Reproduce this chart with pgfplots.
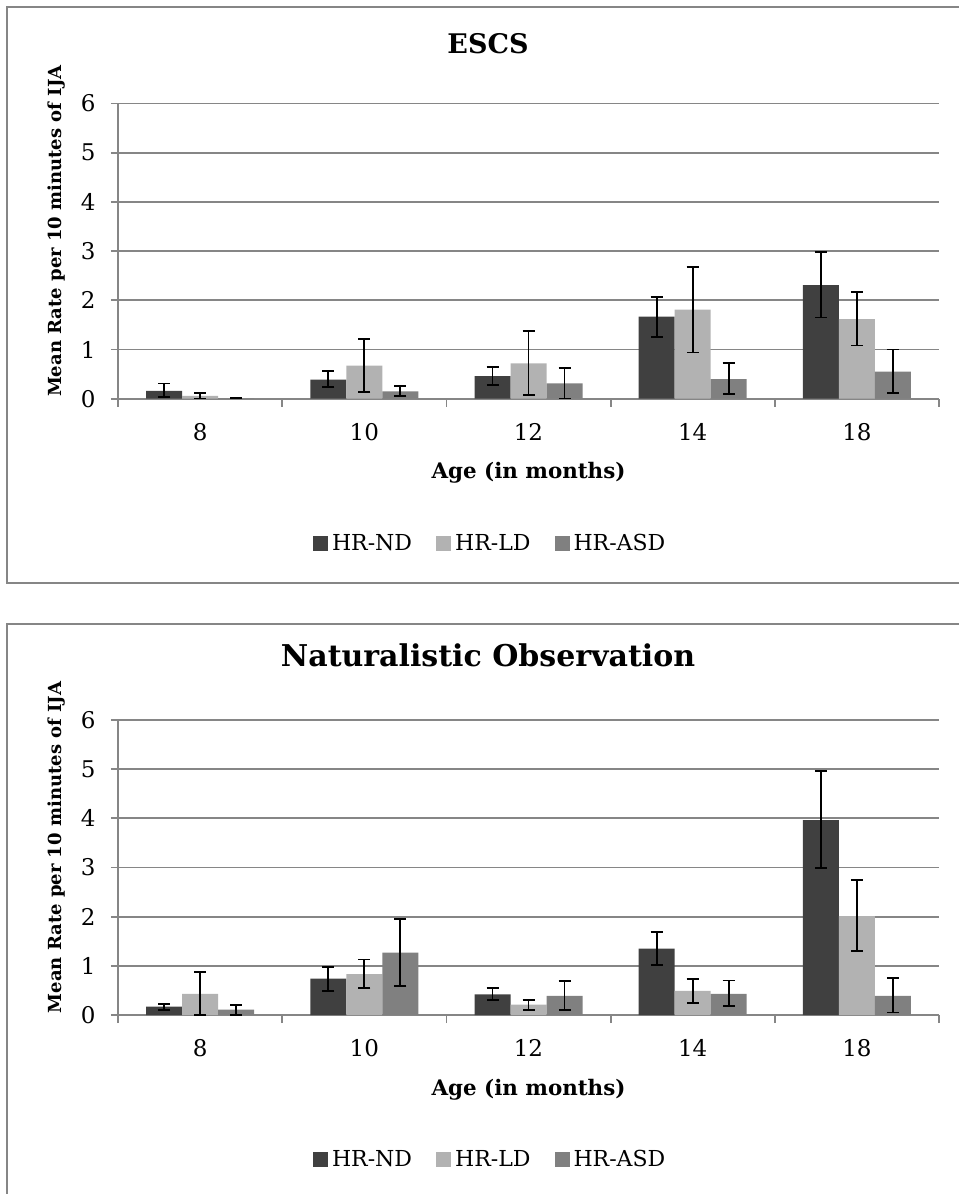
\documentclass[border=0pt]{standalone}
\usepackage{pgfplots}
\pgfplotsset{compat=1.18}
\usepackage{pgfplotstable}
\usepackage{fontspec}
\setmainfont{DejaVu Serif}

\definecolor{cND}{HTML}{404040}
\definecolor{cLD}{HTML}{B2B2B2}
\definecolor{cASD}{HTML}{808080}
\definecolor{gridgray}{HTML}{868686}

% x y ep em  (ep = upper error, em = lower error)
\pgfplotstableread{
x y ep em
0 0.16 0.15 0.13
1 0.39 0.17 0.15
2 0.46 0.18 0.18
3 1.67 0.40 0.41
4 2.31 0.68 0.66
}\escsND
\pgfplotstableread{
x y ep em
0 0.06 0.05 0.06
1 0.67 0.54 0.54
2 0.72 0.65 0.645
3 1.81 0.87 0.87
4 1.62 0.55 0.54
}\escsLD
\pgfplotstableread{
x y ep em
0 0.01 0.0 0.0
1 0.15 0.11 0.10
2 0.31 0.32 0.31
3 0.40 0.32 0.30
4 0.55 0.45 0.44
}\escsASD
\pgfplotstableread{
x y ep em
0 0.17 0.06 0.06
1 0.74 0.24 0.25
2 0.42 0.13 0.11
3 1.35 0.34 0.33
4 3.96 1.00 0.98
}\natND
\pgfplotstableread{
x y ep em
0 0.43 0.45 0.43
1 0.83 0.30 0.28
2 0.21 0.10 0.10
3 0.49 0.25 0.24
4 2.01 0.73 0.71
}\natLD
\pgfplotstableread{
x y ep em
0 0.11 0.10 0.11
1 1.27 0.68 0.68
2 0.39 0.30 0.29
3 0.43 0.27 0.25
4 0.39 0.36 0.34
}\natASD

\pgfplotsset{
  mychart/.style={
    scale only axis,
    width=821bp, height=295.2bp,
    ybar=0pt, bar width=36bp,
    xmin=-0.5, xmax=4.5,
    ymin=0, ymax=6,
    xtick={0,1,2,3,4},
    xticklabels={8,10,12,14,18},
    minor xtick={-0.5,0.5,1.5,2.5,3.5,4.5},
    ytick={0,1,2,3,4,5,6},
    major x tick style={draw=none},
    tick align=outside,
    major tick length=7bp,
    minor tick length=8bp,
    axis x line*=bottom, axis y line*=left,
    axis line style={draw=gridgray, line width=1.8bp, -},
    every tick/.style={draw=gridgray, line width=1.8bp},
    ymajorgrids,
    grid style={draw=gridgray, line width=1.8bp},
    /pgf/number format/assume math mode=true,
    ticklabel style={font=\fontsize{23bp}{27bp}\selectfont},
    xticklabel style={anchor=center, yshift=-26bp},
    yticklabel style={anchor=east, xshift=-12bp},
    xlabel={\textbf{Age (in months)}},
    ylabel={\textbf{Mean Rate per 10 minutes of IJA}},
    xlabel style={font=\fontsize{21.4bp}{25bp}\selectfont, at={(axis description cs:0.5,-0.252)}, anchor=center},
    ylabel style={font=\fontsize{18bp}{22bp}\selectfont, at={(axis description cs:-0.0743,0.568)}, anchor=center},
    title style={anchor=center},
    legend style={draw=none, fill=none, anchor=center,
      font=\fontsize{22bp}{26bp}\selectfont,
      nodes={inner xsep=4bp},
      /tikz/every even column/.append style={column sep=20bp}},
    legend columns=-1,
    legend image code/.code={\fill[##1] (0bp,-7.5bp) rectangle (15bp,7.5bp);},
    error bars/y dir=both, error bars/y explicit,
    error bars/error bar style={black, line width=1.8bp},
    error bars/error mark options={black, line width=1.8bp, mark size=6bp, rotate=90},
  },
}

\begin{document}
\begin{tikzpicture}
\useasboundingbox (0bp,0bp) rectangle (959bp,-1194bp);
\draw[gridgray, line width=1.8bp] (970bp,-7bp) -- (7bp,-7bp) -- (7bp,-583bp) -- (970bp,-583bp);
\draw[gridgray, line width=1.8bp] (970bp,-624bp) -- (7bp,-624bp) -- (7bp,-1200bp);

\begin{axis}[mychart,
  at={(118bp,-398.7bp)}, anchor=south west,
  title={ESCS},
  title style={at={(axis description cs:0.4507,1.181)}, font=\fontsize{27bp}{32bp}\selectfont\bfseries},
  legend style={at={(axis description cs:0.4545,-0.489)}},
]
\addplot[fill=cND, draw=none] table[x=x, y=y, y error plus=ep, y error minus=em] {\escsND};
\addplot[fill=cLD, draw=none] table[x=x, y=y, y error plus=ep, y error minus=em] {\escsLD};
\addplot[fill=cASD, draw=none] table[x=x, y=y, y error plus=ep, y error minus=em] {\escsASD};
\legend{HR-ND, HR-LD, HR-ASD}
\end{axis}

\begin{axis}[mychart,
  at={(118bp,-1015bp)}, anchor=south west,
  title={Naturalistic Observation},
  title style={at={(axis description cs:0.4507,1.199)}, font=\fontsize{30bp}{36bp}\selectfont\bfseries},
  legend style={at={(axis description cs:0.4545,-0.489)}},
]
\addplot[fill=cND, draw=none] table[x=x, y=y, y error plus=ep, y error minus=em] {\natND};
\addplot[fill=cLD, draw=none] table[x=x, y=y, y error plus=ep, y error minus=em] {\natLD};
\addplot[fill=cASD, draw=none] table[x=x, y=y, y error plus=ep, y error minus=em] {\natASD};
\legend{HR-ND, HR-LD, HR-ASD}
\end{axis}
\end{tikzpicture}
\end{document}
